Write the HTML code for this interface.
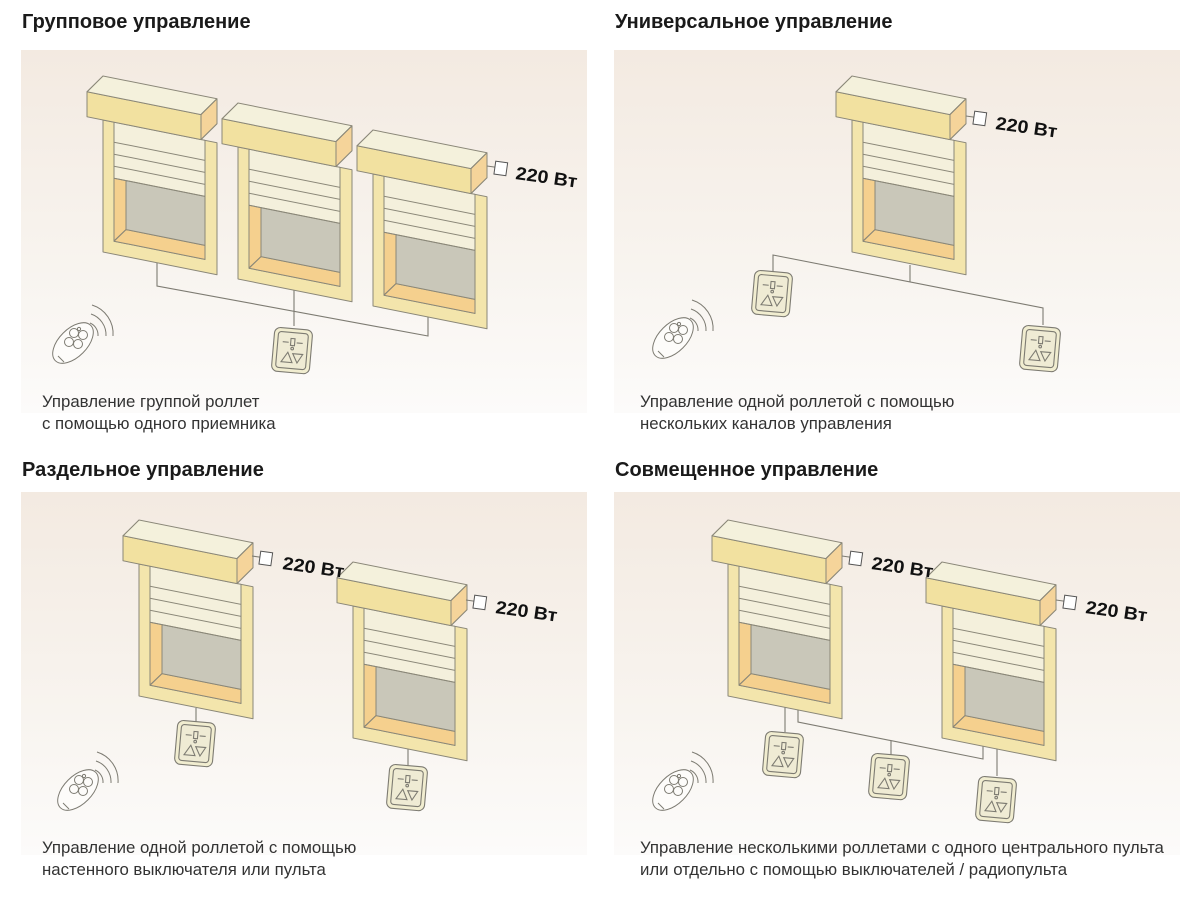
<!DOCTYPE html>
<html><head><meta charset="utf-8"><style>
html,body{margin:0;padding:0;background:#fff;}
svg{display:block;}
.t{font-family:"Liberation Sans",sans-serif;font-weight:bold;font-size:20px;fill:#1a1a1a;}
.c{font-family:"Liberation Sans",sans-serif;font-size:16.8px;fill:#333;}
.v{font-family:"Liberation Sans",sans-serif;font-weight:bold;font-size:18px;fill:#111;}
.ln{fill:none;stroke:#7d7b72;stroke-width:1.1;}
</style></head><body>
<svg width="1200" height="903" viewBox="0 0 1200 903" xmlns="http://www.w3.org/2000/svg">
<defs>
<linearGradient id="bg" x1="0" y1="0" x2="0" y2="1">
<stop offset="0" stop-color="#f3eae1"/><stop offset="0.6" stop-color="#f8f4ef"/><stop offset="1" stop-color="#fcfbfa"/>
</linearGradient>
<g id="win" stroke="#8a8778" stroke-width="1" stroke-linejoin="round">
<rect x="0" y="0" width="114" height="132" fill="#f3e5ac"/>
<rect x="11" y="0" width="91" height="119" fill="#f4f0dc"/>
<polygon points="11,56 23,56 23,105 11,119" fill="#f5d08e"/>
<polygon points="11,119 23,105 102,105 102,119" fill="#f5d08e"/>
<rect x="23" y="56" width="79" height="49" fill="#c9c7b9"/>
<line x1="11" y1="20" x2="102" y2="20"/><line x1="11" y1="32" x2="102" y2="32"/><line x1="11" y1="44" x2="102" y2="44"/><line x1="11" y1="56" x2="102" y2="56"/>
<rect x="-16" y="-25" width="114" height="25" fill="#f2e1a0"/>
<polygon points="-16,-25 0,-44 114,-44 98,-25" fill="#f4f1dc"/>
<polygon points="98,-25 114,-44 114,-19 98,0" fill="#f5d49a"/>
</g>
<g id="sw" stroke="#7d7b72" stroke-width="1.1" fill="none">
<rect x="0" y="0" width="38" height="44" rx="6" fill="#f1edd0"/>
<rect x="4" y="4" width="30" height="36" rx="3" fill="#efebd4"/>
<rect x="17" y="10" width="4" height="7"/>
<line x1="9" y1="14" x2="15" y2="14"/><line x1="23" y1="14" x2="29" y2="14"/>
<circle cx="19" cy="20" r="1.3"/>
<polygon points="9,34 15,24 20,34"/><polygon points="20,25 30,25 25,34"/>
</g>
<g id="rm" stroke="#7d7b72" stroke-width="1" fill="none">
<ellipse cx="0" cy="0" rx="14" ry="25" transform="rotate(45)" fill="#fdfcfa"/>
<circle cx="1" cy="-10" r="4.5"/><circle cx="10" cy="-8" r="4.5"/><circle cx="5" cy="1" r="4.5"/><circle cx="-4" cy="-1" r="4.5"/>
<circle cx="6" cy="-14" r="1.6"/>
<path d="M-15 13 L-9 19"/>
<path d="M17 -20 a13 13 0 0 1 8 13"/><path d="M18 -29 a22 22 0 0 1 15 22"/><path d="M19 -38 a30 30 0 0 1 21 31"/>
</g>
<g id="pw"><line class="ln" x1="0" y1="0" x2="8" y2="0"/><rect x="8" y="-6" width="12" height="13" fill="#fff" stroke="#555" stroke-width="1"/></g>
</defs>

<rect x="21" y="50" width="566" height="363" fill="url(#bg)"/>
<rect x="614" y="50" width="566" height="363" fill="url(#bg)"/>
<rect x="21" y="492" width="566" height="363" fill="url(#bg)"/>
<rect x="614" y="492" width="566" height="363" fill="url(#bg)"/>

<text class="t" x="22" y="28">Групповое управление</text>
<text class="t" x="615" y="28">Универсальное управление</text>
<text class="t" x="22" y="476">Раздельное управление</text>
<text class="t" x="615" y="476">Совмещенное управление</text>

<text class="c" x="42" y="407">Управление группой роллет</text>
<text class="c" x="42" y="429">с помощью одного приемника</text>
<text class="c" x="640" y="407">Управление одной роллетой с помощью</text>
<text class="c" x="640" y="429">нескольких каналов управления</text>
<text class="c" x="42" y="853">Управление одной роллетой с помощью</text>
<text class="c" x="42" y="875">настенного выключателя или пульта</text>
<text class="c" x="640" y="853">Управление несколькими роллетами с одного центрального пульта</text>
<text class="c" x="640" y="875">или отдельно с помощью выключателей / радиопульта</text>

<!-- panel 1 -->
<polyline class="ln" points="157,262 157,286 428,336 428,316"/>
<line class="ln" x1="294" y1="289" x2="294" y2="326"/>
<use href="#win" transform="translate(103,120) skewY(11.3)"/>
<use href="#win" transform="translate(238,147) skewY(11.3)"/>
<use href="#win" transform="translate(373,174) skewY(11.3)"/>
<use href="#pw" transform="translate(487,166) rotate(8)"/>
<text class="v" textLength="62" lengthAdjust="spacingAndGlyphs" transform="translate(515,179) rotate(8)">220 Вт</text>
<use href="#sw" transform="translate(275,327) rotate(5)"/>
<use href="#rm" transform="translate(73,343)"/>

<!-- panel 2 -->
<polyline class="ln" points="773,272 773,255 1043,308 1043,325"/>
<line class="ln" x1="910" y1="265" x2="910" y2="282"/>
<use href="#win" transform="translate(852,120) skewY(11.3)"/>
<use href="#pw" transform="translate(966,116) rotate(8)"/>
<text class="v" textLength="62" lengthAdjust="spacingAndGlyphs" transform="translate(995,129) rotate(8)">220 Вт</text>
<use href="#sw" transform="translate(755,270) rotate(5)"/>
<use href="#sw" transform="translate(1023,325) rotate(5)"/>
<use href="#rm" transform="translate(673,338)"/>

<!-- panel 3 -->
<line class="ln" x1="196" y1="708" x2="196" y2="722"/>
<line class="ln" x1="408" y1="748" x2="408" y2="766"/>
<use href="#win" transform="translate(139,564) skewY(11.3)"/>
<use href="#win" transform="translate(353,606) skewY(11.3)"/>
<use href="#pw" transform="translate(252,556) rotate(8)"/>
<text class="v" textLength="62" lengthAdjust="spacingAndGlyphs" transform="translate(282,569) rotate(8)">220 Вт</text>
<use href="#pw" transform="translate(466,600) rotate(8)"/>
<text class="v" textLength="62" lengthAdjust="spacingAndGlyphs" transform="translate(495,613) rotate(8)">220 Вт</text>
<use href="#sw" transform="translate(178,720) rotate(5)"/>
<use href="#sw" transform="translate(390,764) rotate(5)"/>
<use href="#rm" transform="translate(78,790)"/>

<!-- panel 4 -->
<line class="ln" x1="785" y1="706" x2="785" y2="732"/>
<polyline class="ln" points="798,708 798,722 983,759 983,746"/>
<line class="ln" x1="891" y1="741" x2="891" y2="755"/>
<line class="ln" x1="997" y1="748" x2="997" y2="776"/>
<use href="#win" transform="translate(728,564) skewY(11.3)"/>
<use href="#win" transform="translate(942,606) skewY(11.3)"/>
<use href="#pw" transform="translate(842,556) rotate(8)"/>
<text class="v" textLength="62" lengthAdjust="spacingAndGlyphs" transform="translate(871,569) rotate(8)">220 Вт</text>
<use href="#pw" transform="translate(1056,600) rotate(8)"/>
<text class="v" textLength="62" lengthAdjust="spacingAndGlyphs" transform="translate(1085,613) rotate(8)">220 Вт</text>
<use href="#sw" transform="translate(766,731) rotate(5)"/>
<use href="#sw" transform="translate(872,753) rotate(5)"/>
<use href="#sw" transform="translate(979,776) rotate(5)"/>
<use href="#rm" transform="translate(673,790)"/>
</svg>
</body></html>
